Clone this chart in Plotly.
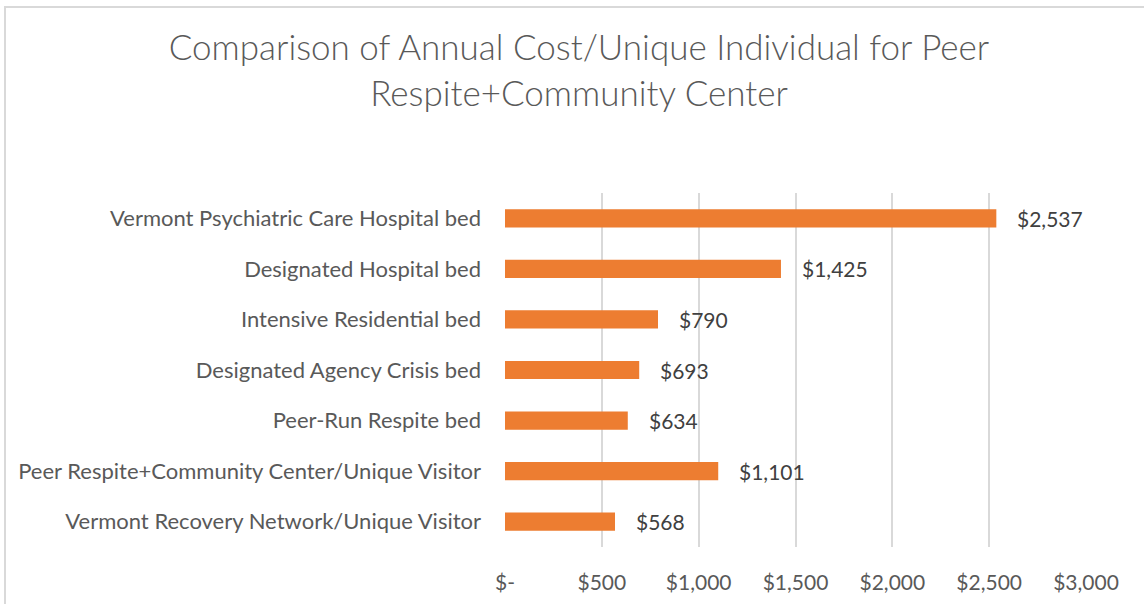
import plotly.graph_objects as go

categories = [
    "Vermont Psychiatric Care Hospital bed",
    "Designated Hospital bed",
    "Intensive Residential bed",
    "Designated Agency Crisis bed",
    "Peer-Run Respite bed",
    "Peer Respite+Community Center/Unique Visitor",
    "Vermont Recovery Network/Unique Visitor",
]
values = [2537, 1425, 790, 693, 634, 1101, 568]
tick_vals = [0, 500, 1000, 1500, 2000, 2500, 3000]
tick_text = ["$-", "$500", "$1,000", "$1,500", "$2,000", "$2,500", "$3,000"]
title_text = "Comparison of Annual Cost/Unique Individual for Peer<br>Respite+Community Center"

FONT = "Lato"
GRAY = "#595959"

W, H = 1144, 604
L, R, T, B = 505, 58, 193, 57

fig = go.Figure()
fig.add_trace(go.Bar(
    y=categories,
    x=values,
    orientation="h",
    marker=dict(color="#ED7D31", line=dict(width=0)),
    width=0.36,
    hoverinfo="x+y",
))

for c, v in zip(categories, values):
    fig.add_annotation(
        x=v, y=c, xref="x", yref="y",
        text=f"${v:,}",
        showarrow=False,
        xanchor="left", yanchor="middle",
        xshift=19,
        font=dict(family=FONT, size=21, color="#404040"),
    )

pw = W - L - R
ph = H - T - B
fig.add_shape(
    type="rect", xref="paper", yref="paper",
    x0=(5 - L) / pw, x1=(W + 10 - L) / pw,
    y0=(H - B - (H + 10)) / ph, y1=(H - B - 7) / ph,
    line=dict(color="#D9D9D9", width=2),
    fillcolor="rgba(0,0,0,0)",
    layer="below",
)

fig.update_layout(
    width=W, height=H,
    margin=dict(l=L, r=R, t=T, b=B, autoexpand=False),
    paper_bgcolor="white",
    plot_bgcolor="white",
    showlegend=False,
    title=dict(
        text=title_text,
        x=579 / W, xanchor="center",
        y=1 - 60 / H, yanchor="top", yref="container",
        font=dict(family=FONT, size=35, color=GRAY, weight=300),
    ),
)
fig.update_xaxes(
    range=[0, 3000],
    tickvals=tick_vals,
    ticktext=tick_text,
    showgrid=True, gridcolor="#D9D9D9", gridwidth=2,
    zeroline=False,
    showline=False,
    ticks="",
    tickfont=dict(family=FONT, size=21, color=GRAY),
    ticklabelstandoff=21,
    automargin=False,
    fixedrange=True,
)
fig.update_yaxes(
    categoryorder="array",
    categoryarray=categories[::-1],
    showgrid=False,
    zeroline=False,
    showline=False,
    ticks="",
    tickfont=dict(family=FONT, size=22, color=GRAY),
    ticklabelstandoff=23,
    automargin=False,
    fixedrange=True,
)

fig.write_html(
    "out.html",
    config={"displayModeBar": False},
    post_script="document.body.style.margin='0';document.body.style.overflow='hidden';",
)
